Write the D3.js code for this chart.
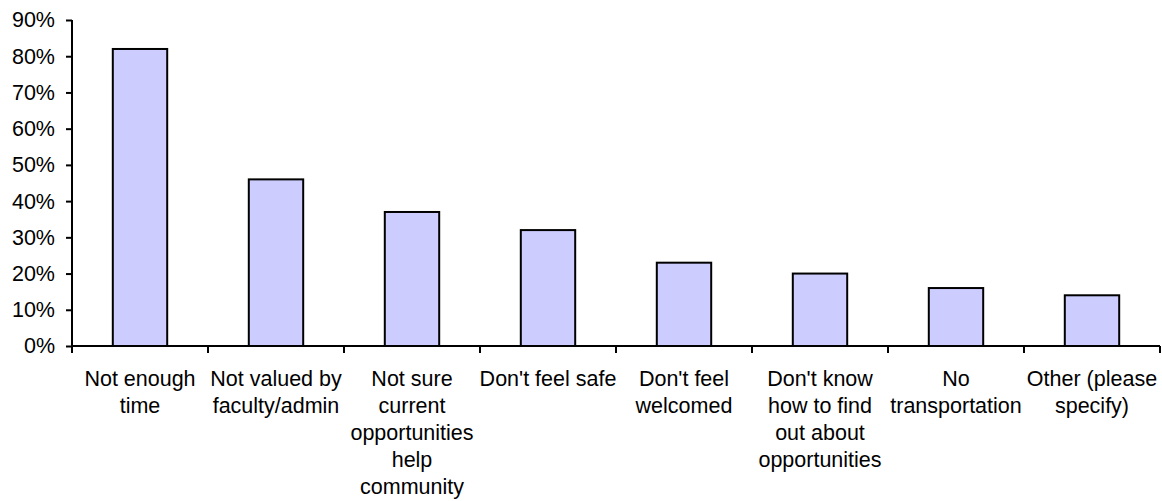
<!DOCTYPE html>
<html>
<head>
<meta charset="utf-8">
<script src="https://cdn.jsdelivr.net/npm/d3@7"></script>
<style>
  html, body { margin: 0; padding: 0; background: #fff; }
  svg text { font-family: "Liberation Sans", Arial, sans-serif; fill: #000; }
</style>
</head>
<body>
<svg id="chart" width="1162" height="501"></svg>
<script>
// Reasons given, one label line per array entry
const categories = [
  ["Not enough", "time"],
  ["Not valued by", "faculty/admin"],
  ["Not sure", "current", "opportunities", "help", "community"],
  ["Don't feel safe"],
  ["Don't feel", "welcomed"],
  ["Don't know", "how to find", "out about", "opportunities"],
  ["No", "transportation"],
  ["Other (please", "specify)"]
];
const values = [0.82, 0.46, 0.37, 0.32, 0.23, 0.20, 0.16, 0.14];
const yTicks = [0, 0.1, 0.2, 0.3, 0.4, 0.5, 0.6, 0.7, 0.8, 0.9];

const keys = categories.map(c => c.join(" "));
const plotLeft = 72, plotRight = 1160, plotTop = 20, plotBottom = 346;
const fontSize = 21.5, lineHeight = 27;

const svg = d3.select("#chart");

const x = d3.scaleBand()
  .domain(keys)
  .range([plotLeft, plotRight])
  .paddingInner(0.6)
  .paddingOuter(0.3);

const y = d3.scaleLinear()
  .domain([0, 0.9])
  .range([plotBottom, plotTop]);

// Bars
svg.append("g")
  .selectAll("rect")
  .data(values)
  .join("rect")
  .attr("x", (d, i) => x(keys[i]))
  .attr("y", d => y(d))
  .attr("width", x.bandwidth())
  .attr("height", d => y(0) - y(d))
  .attr("fill", "#CCCCFF")
  .attr("stroke", "#000")
  .attr("stroke-width", 2);

// Y axis
const yAxis = svg.append("g")
  .attr("transform", `translate(${plotLeft},0)`)
  .call(d3.axisLeft(y)
    .tickValues(yTicks)
    .tickFormat(d3.format(".0%"))
    .tickSize(6)
    .tickPadding(11));
yAxis.select(".domain").attr("d", `M0,${plotTop}V${plotBottom}`).attr("stroke", "#000").attr("stroke-width", 2);
yAxis.selectAll(".tick line").attr("stroke", "#000").attr("stroke-width", 2);
yAxis.selectAll(".tick text")
  .attr("font-size", fontSize)
  .attr("font-family", "Liberation Sans, Arial, sans-serif");

// X axis line with ticks at category boundaries
const step = x.step();
const boundaries = keys.map(k => x(k) + x.bandwidth() / 2 - step / 2)
  .concat([x(keys[keys.length - 1]) + x.bandwidth() / 2 + step / 2]);

const xAxis = svg.append("g");
xAxis.append("line")
  .attr("x1", plotLeft - 1).attr("x2", plotRight)
  .attr("y1", y(0)).attr("y2", y(0))
  .attr("stroke", "#000").attr("stroke-width", 2);
xAxis.selectAll("line.tick")
  .data(boundaries)
  .join("line")
  .attr("class", "tick")
  .attr("x1", d => d).attr("x2", d => d)
  .attr("y1", y(0)).attr("y2", y(0) + 7)
  .attr("stroke", "#000").attr("stroke-width", 2);

// Category labels
const labels = xAxis.selectAll("text")
  .data(categories)
  .join("text")
  .attr("x", (d, i) => x(keys[i]) + x.bandwidth() / 2)
  .attr("y", 385.5)
  .attr("text-anchor", "middle")
  .attr("font-size", fontSize);
labels.selectAll("tspan")
  .data(d => d)
  .join("tspan")
  .attr("x", function () { return d3.select(this.parentNode).attr("x"); })
  .attr("dy", (d, i) => i === 0 ? 0 : lineHeight)
  .text(d => d);
</script>
</body>
</html>
